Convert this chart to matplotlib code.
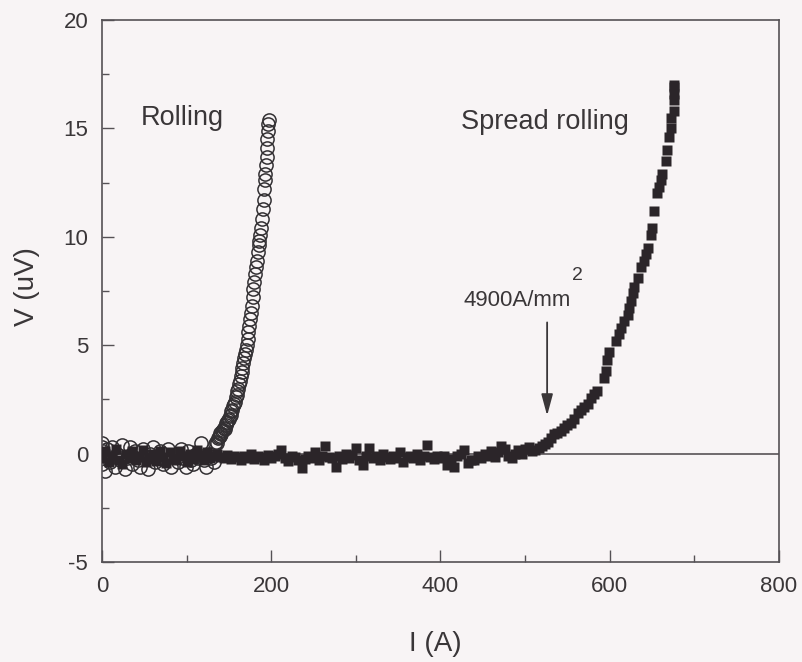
import numpy as np
import matplotlib
matplotlib.use("Agg")
import matplotlib.pyplot as plt
from matplotlib.ticker import MultipleLocator

plt.rcParams['font.family'] = ['Liberation Sans', 'DejaVu Sans']

# ---- Rolling sample (open circles) ----
rolling_flat_i = np.arange(0, 135, 3)
rolling_flat_v = [0.5, -0.8, 0.2, -0.4, 0.3, -0.6, 0.0, -0.3, 0.4, -0.7,
                  -0.2, 0.3, -0.5, 0.1, -0.3, -0.6, 0.2, -0.1, -0.7, 0.0,
                  0.3, -0.4, -0.2, 0.1, -0.5, -0.3, 0.2, -0.6, -0.1, 0.0,
                  -0.4, 0.2, -0.2, -0.6, 0.1, -0.3, -0.5, 0.0, -0.2, 0.5,
                  -0.3, -0.6, 0.0, -0.2, -0.4]
rolling_rise_i = [0, 0, 1, 134, 135, 136, 137, 138, 139, 140, 141, 142, 143, 144,
                  145, 146, 147, 148, 149, 150, 151, 152, 153, 154, 155, 156,
                  157, 158, 159, 160, 161, 162, 163, 164, 165, 166, 167, 168,
                  169, 170, 171, 172, 173, 174, 175, 176, 177, 178, 179, 180,
                  181, 182, 183, 184, 185, 186, 187, 188, 189, 190, 191, 192,
                  192.5, 193, 194, 194.5, 195, 195.5, 196, 196.5, 197]
rolling_rise_v = [0.3, -0.5, 0.1, 0.45, 0.55, 0.5, 0.7, 0.75, 0.8, 0.95, 0.9, 1.05,
                  1.1, 1.2, 1.15, 1.3, 1.4, 1.45, 1.55, 1.6, 1.75, 1.8, 1.95,
                  2.0, 2.2, 2.3, 2.4, 2.6, 2.7, 2.9, 3.0, 3.2, 3.35, 3.6, 3.75,
                  3.95, 4.2, 4.4, 4.6, 4.8, 5.0, 5.3, 5.6, 5.9, 6.2, 6.5, 6.8,
                  7.2, 7.6, 7.9, 8.3, 8.6, 8.9, 9.3, 9.6, 9.8, 10.1, 10.4, 10.8,
                  11.3, 11.7, 12.2, 12.6, 12.9, 13.3, 13.7, 14.1, 14.5, 14.9,
                  15.2, 15.4]

# ---- Spread rolling sample (filled squares) ----
spread_flat_i = np.arange(0, 440, 4)
spread_flat_v = [-0.2, 0.1, -0.4, -0.1, 0.2, -0.3, -0.5, 0.0, -0.2, 0.1,
                 -0.3, -0.1, 0.15, -0.4, -0.2, 0.0, -0.35, 0.1, -0.15, -0.45,
                 0.05, -0.2, -0.3, 0.1, -0.1, -0.4, 0.0, -0.25, 0.15, -0.1,
                 -0.3, 0.05, -0.2, -0.1, 0.0, -0.15, -0.2, -0.05, -0.25, -0.1,
                 -0.15, -0.3, -0.1, -0.2, 0.0, -0.25, -0.1, -0.15, -0.3, -0.05,
                 -0.2, -0.1, 0.0, 0.18, -0.2, -0.35, -0.1, -0.15, -0.3, -0.68,
                 -0.25, -0.1, -0.2, 0.05, -0.3, -0.1, 0.34, -0.15, -0.2, -0.6,
                 -0.1, -0.25, 0.0, -0.2, -0.05, 0.27, -0.3, -0.52, -0.1, 0.27,
                 -0.2, -0.1, -0.3, 0.0, -0.15, -0.25, -0.1, -0.2, 0.05, -0.37,
                 -0.15, -0.1, -0.2, 0.0, -0.3, -0.1, 0.41, -0.15, -0.25, -0.1,
                 -0.2, -0.1, -0.52, -0.25, -0.6, -0.1, 0.0, 0.18, -0.45, -0.3]
spread_tail_i = [440, 444, 448, 452, 456, 460, 464, 468, 472, 476, 480, 484,
                 488, 492, 496, 500, 504, 508, 512, 516, 520, 524, 527, 530,
                 534, 538, 542, 546, 550, 554, 558, 562, 566, 570, 574, 578,
                 581, 585, 593, 595, 597, 599, 607, 611, 613, 617, 621, 623,
                 625, 627, 629, 633, 637, 641, 643, 645, 648.5, 650.5, 652,
                 656, 658, 660, 662, 666, 668, 670, 672, 672, 676, 676, 676,
                 676, 676]
spread_tail_v = [-0.3, -0.1, -0.2, 0.0, -0.1, 0.1, -0.15, 0.05, 0.35, 0.2,
                 -0.1, -0.2, 0.0, 0.15, 0.0, 0.2, 0.3, 0.1, 0.15, 0.25, 0.35,
                 0.45, 0.55, 0.7, 0.9, 0.95, 1.05, 1.2, 1.3, 1.4, 1.6, 1.85,
                 2.0, 2.15, 2.3, 2.55, 2.75, 2.9, 3.5, 3.8, 4.3, 4.7, 5.2, 5.5,
                 5.8, 6.1, 6.4, 6.7, 7.05, 7.4, 7.7, 8.1, 8.6, 8.9, 9.2, 9.5,
                 10.1, 10.4, 11.2, 12.0, 12.3, 12.6, 12.9, 13.5, 14.0, 14.6,
                 15.0, 15.5, 15.8, 16.3, 16.6, 16.9, 17.0]

x_ticks = [0, 200, 400, 600, 800]
y_ticks = [-5, 0, 5, 10, 15, 20]

ink = '#2b2529'
text_c = '#3a3638'
bg = '#f8f4f5'

fig = plt.figure(figsize=(8.02, 6.62), dpi=100, facecolor=bg)
ax = fig.add_axes([0.1272, 0.1511, 0.8441, 0.8187], facecolor=bg)

ax.axhline(0, color='#4a4548', lw=1.1, zorder=1)

ax.plot(rolling_flat_i, rolling_flat_v, ls='none', marker='o', ms=9.5,
        mfc='none', mec='#333033', mew=1.1, zorder=2)
ax.plot(rolling_rise_i, rolling_rise_v, ls='none', marker='o', ms=9.5,
        mfc='none', mec='#333033', mew=1.1, zorder=2)
ax.plot(spread_flat_i, spread_flat_v, ls='none', marker='s', ms=6.6,
        mec='none', mfc=ink, zorder=3)
ax.plot(spread_tail_i, spread_tail_v, ls='none', marker='s', ms=6.6,
        mec='none', mfc=ink, zorder=3)

ax.set_xlim(0, 800)
ax.set_ylim(-5, 20)
ax.set_xticks(x_ticks)
ax.set_yticks(y_ticks)
ax.set_yticklabels([str(t) for t in y_ticks])
ax.xaxis.set_minor_locator(MultipleLocator(100))
ax.yaxis.set_minor_locator(MultipleLocator(2.5))
ax.tick_params(which='both', direction='in', top=False, right=False,
               colors='#555155', labelcolor=text_c, labelsize=16, pad=10)
ax.tick_params(which='major', length=8.5, width=1)
ax.tick_params(which='minor', length=5, width=1)
for s in ax.spines.values():
    s.set_color('#555155')
    s.set_linewidth(1.2)

ax.text(95, 15.5, 'Rolling', fontsize=19.5, color=text_c, ha='center', va='center')
ax.text(523, 15.3, 'Spread rolling', fontsize=19.5, color=text_c, ha='center', va='center')

ax.text(490.5, 7.05, '4900A/mm', fontsize=16, color=text_c, ha='center', va='center')
ax.text(562, 8.2, '2', fontsize=14, color=text_c, ha='center', va='center')
ax.annotate('', xy=(526, 1.75), xytext=(526, 6.05),
            arrowprops=dict(arrowstyle='-|>,head_length=1.3,head_width=0.35',
                            color='#3a3638', lw=1.3, shrinkA=0, shrinkB=0))

fig.text(27 / 802, 1 - 287 / 662, 'V (uV)', rotation=90, fontsize=20,
         color=text_c, ha='center', va='center')
fig.text(435 / 802, 1 - 644 / 662, 'I (A)', fontsize=20,
         color=text_c, ha='center', va='center')

fig.savefig('out.png', dpi=100, facecolor=bg)
